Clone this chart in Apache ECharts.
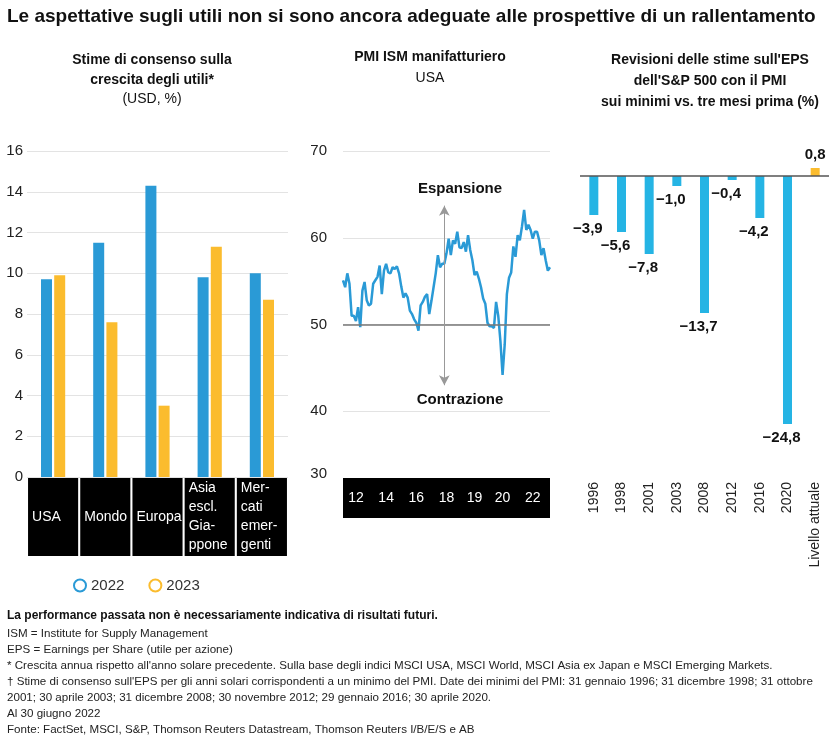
<!DOCTYPE html>
<html><head><meta charset="utf-8">
<script src="https://cdn.jsdelivr.net/npm/echarts@6/dist/echarts.min.js"></script>
<style>html,body{margin:0;padding:0;background:#fff}#c{width:840px;height:735px}</style>
</head><body><div id="c"></div>
<script>
// Left chart
const regions = ['USA', 'Mondo', 'Europa', 'Asia\nescl.\nGia-\nppone', 'Mer-\ncati\nemer-\ngenti'];
const eps2022 = [9.7, 11.5, 14.3, 9.8, 10.0];
const eps2023 = [9.9, 7.6, 3.5, 11.3, 8.7];
// Middle chart (ISM PMI, monthly)
const pmi = [55.1,54.3,55.9,54.7,51.0,51.0,50.4,52.0,49.7,53.9,54.9,52.8,52.2,52.4,54.7,55.1,55.5,56.8,53.5,56.2,57.0,56.0,55.9,56.6,56.4,56.7,55.9,54.4,53.1,53.6,53.1,51.6,51.2,50.6,50.2,49.3,52.2,52.6,53.2,53.5,51.2,52.7,54.3,55.9,58.0,56.6,57.0,57.0,58.2,59.9,58.0,59.7,59.3,60.7,58.9,58.8,59.5,58.4,60.3,58.6,57.4,55.7,56.1,55.3,54.3,53.0,52.4,50.2,49.8,49.8,49.6,52.6,51.0,48.1,44.2,47.7,53.5,55.4,56.0,59.0,57.8,60.3,59.7,61.3,63.2,60.9,61.5,60.9,59.9,60.7,60.7,59.7,58.0,58.8,57.4,56.2,56.6];
const pmiYearLabels = {6:'12',20:'14',34:'16',48:'18',61:'19',74:'20',88:'22'};
// Right chart
const epsYears = ['1996','1998','2001','2003','2008','2012','2016','2020','Livello attuale'];
const epsRevisions = [-3.9, -5.6, -7.8, -1.0, -13.7, -0.4, -4.2, -24.8, 0.8];

const BLUE = '#2a9ad6', YEL = '#fbbc2e', CYAN = '#25b4e4';
const FONT = 'Liberation Sans';
const pmiCats = pmi.map((_, i) => i);
const fmt = v => (v < 0 ? '\u2212' : '') + Math.abs(v).toFixed(1).replace('.', ',');

const chart = echarts.init(document.getElementById('c'));
chart.setOption({
  animation: false,
  textStyle: {fontFamily: FONT},
  grid: [
    {left: 27, right: 552, top: 151, bottom: 258},
    {left: 343, right: 290, top: 151, bottom: 237},
    {left: 580, right: 11, top: 126, bottom: 259},
    {left: 27, right: 552, top: 478, bottom: 179}
  ],
  legend: {
    data: ['2022', '2023'], left: 68, top: 573, itemGap: 24, itemWidth: 12, itemHeight: 12,
    icon: 'emptyCircle', itemStyle: {borderWidth: 3},
    textStyle: {fontSize: 15, color: '#333', fontFamily: FONT}
  },
  xAxis: [
    {gridIndex: 0, type: 'category', data: regions, axisLine: {show: false}, axisTick: {show: false}, axisLabel: {show: false}},
    {gridIndex: 1, type: 'category', data: pmiCats, boundaryGap: false,
      axisLine: {lineStyle: {color: '#000', width: 40, cap: 'butt'}}, axisTick: {show: false},
      axisLabel: {color: '#fff', fontSize: 14, verticalAlign: 'middle', margin: 0,
        interval: i => pmiYearLabels[i] !== undefined, formatter: (v, i) => pmiYearLabels[i] || ''}},
    {gridIndex: 2, type: 'category', data: epsYears,
      axisLine: {onZero: false, show: false}, axisTick: {show: false},
      axisLabel: {rotate: 90, fontSize: 14, color: '#222', interval: 0, margin: 6}},
    {gridIndex: 3, type: 'category', data: regions, show: false}
  ],
  yAxis: [
    {gridIndex: 0, type: 'value', min: 0, max: 16, interval: 2,
      axisLabel: {fontSize: 15, color: '#222', margin: 4}, splitLine: {lineStyle: {color: '#e3e3e3'}}},
    {gridIndex: 1, type: 'value', min: 30, max: 70, interval: 10,
      axisLabel: {fontSize: 15, color: '#222', margin: 16, formatter: v => v === 30 ? '' : v}, splitLine: {lineStyle: {color: '#e3e3e3'}}},
    {gridIndex: 2, type: 'value', min: -30, max: 5, show: false},
    {gridIndex: 3, type: 'value', min: 0, max: 1, show: false}
  ],
  series: [
    {name: '2022', type: 'bar', xAxisIndex: 0, yAxisIndex: 0, data: eps2022, barWidth: 11, barGap: '20%', itemStyle: {color: BLUE}},
    {name: '2023', type: 'bar', xAxisIndex: 0, yAxisIndex: 0, data: eps2023, barWidth: 11, itemStyle: {color: YEL}},
    {type: 'bar', xAxisIndex: 3, yAxisIndex: 3, data: regions.map(() => 1), barWidth: '96%', itemStyle: {color: '#000'}, silent: true,
      label: {show: true, position: 'insideLeft', distance: 4, formatter: p => p.name, color: '#fff', fontSize: 14, lineHeight: 19}},
    {type: 'line', xAxisIndex: 1, yAxisIndex: 1, data: pmi, showSymbol: false, lineStyle: {color: BLUE, width: 2.5},
      markLine: {silent: true, symbol: 'none', label: {show: false}, data: [
        [{coord: [0, 50], symbol: 'none', lineStyle: {color: '#777', width: 1.5, type: 'solid'}},
         {coord: [pmi.length - 1, 50], symbol: 'none'}],
        [{coord: [47, 50], symbol: 'none', lineStyle: {color: '#999', width: 1, type: 'solid'}},
         {coord: [47, 63.7], symbol: 'arrow', symbolSize: [8, 10]}],
        [{coord: [47, 50], symbol: 'none', lineStyle: {color: '#999', width: 1, type: 'solid'}},
         {coord: [47, 43], symbol: 'arrow', symbolSize: [8, 10]}]
      ]}},
    {type: 'bar', xAxisIndex: 2, yAxisIndex: 2, barWidth: 9,
      data: epsRevisions.map((v, i) => ({value: v, itemStyle: {color: i === epsRevisions.length - 1 ? YEL : CYAN},
        label: {position: v < 0 ? 'bottom' : 'top', offset: v < 0 ? [-6, 0] : [0, 0]}})),
      label: {show: true, formatter: p => fmt(p.value), fontSize: 15, fontWeight: 'bold', color: '#111', distance: 6},
      markLine: {silent: true, symbol: 'none', label: {show: false}, lineStyle: {color: '#555', width: 1.5, type: 'solid'},
        data: [{yAxis: 0}]}}
  ],
  graphic: [
    {type: 'text', left: 7, top: 7, style: {text: 'Le aspettative sugli utili non si sono ancora adeguate alle prospettive di un rallentamento', font: 'bold 19px ' + FONT, fill: '#111'}},
    {type: 'text', x: 152, y: 50, style: {text: 'Stime di consenso sulla\ncrescita degli utili*', font: 'bold 14px ' + FONT, fill: '#111', align: 'center', lineHeight: 20}},
    {type: 'text', x: 152, y: 92, style: {text: '(USD, %)', font: '14px ' + FONT, fill: '#111', align: 'center'}},
    {type: 'text', x: 430, y: 50, style: {text: 'PMI ISM manifatturiero', font: 'bold 14px ' + FONT, fill: '#111', align: 'center'}},
    {type: 'text', x: 430, y: 71, style: {text: 'USA', font: '14px ' + FONT, fill: '#111', align: 'center'}},
    {type: 'text', x: 710, y: 50, style: {text: "Revisioni delle stime sull'EPS\ndell'S&P 500 con il PMI\nsui minimi vs. tre mesi prima (%)", font: 'bold 14px ' + FONT, fill: '#111', align: 'center', lineHeight: 21}},
    {type: 'text', x: 460, y: 181, style: {text: 'Espansione', font: 'bold 15px ' + FONT, fill: '#111', align: 'center'}},
    {type: 'text', x: 460, y: 392, style: {text: 'Contrazione', font: 'bold 15px ' + FONT, fill: '#111', align: 'center'}},
    {type: 'text', x: 327, y: 466, z: 100, style: {text: '30', font: '15px ' + FONT, fill: '#222', align: 'right'}},
    {type: 'text', left: 7, top: 610, style: {text: 'La performance passata non è necessariamente indicativa di risultati futuri.', font: 'bold 12px ' + FONT, fill: '#111'}},
    {type: 'text', left: 7, top: 626, style: {text: 'ISM = Institute for Supply Management\nEPS = Earnings per Share (utile per azione)\n* Crescita annua rispetto all\'anno solare precedente. Sulla base degli indici MSCI USA, MSCI World, MSCI Asia ex Japan e MSCI Emerging Markets.\n\u2020 Stime di consenso sull\'EPS per gli anni solari corrispondenti a un minimo del PMI. Date dei minimi del PMI: 31 gennaio 1996; 31 dicembre 1998; 31 ottobre\n2001; 30 aprile 2003; 31 dicembre 2008; 30 novembre 2012; 29 gennaio 2016; 30 aprile 2020.\nAl 30 giugno 2022\nFonte: FactSet, MSCI, S&P, Thomson Reuters Datastream, Thomson Reuters I/B/E/S e AB', font: '11.6px ' + FONT, fill: '#222', lineHeight: 16}}
  ]
});
</script></body></html>
